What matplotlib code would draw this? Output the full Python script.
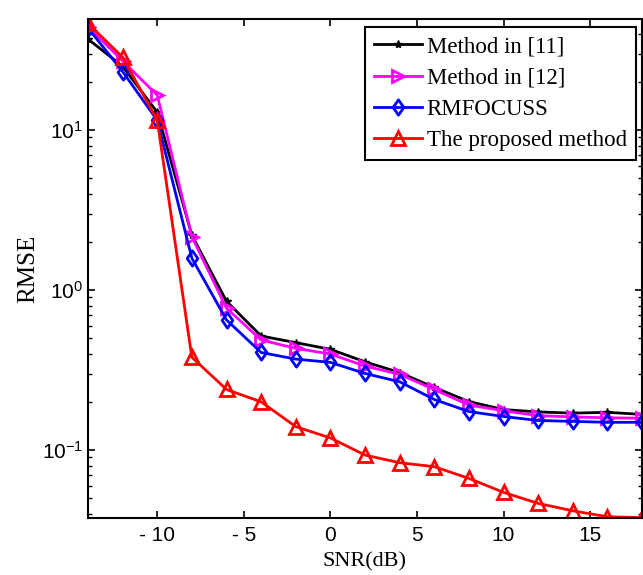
import matplotlib
matplotlib.use("Agg")
import matplotlib.pyplot as plt
from matplotlib.ticker import LogLocator, NullFormatter
from matplotlib.path import Path

snr = [-14, -12, -10, -8, -6, -4, -2, 0, 2, 4, 6, 8, 10, 12, 14, 16, 18]
m11 = [37.0, 25.0, 12.9, 2.2, 0.85, 0.516, 0.469, 0.426, 0.356, 0.305, 0.246, 0.201, 0.179, 0.173, 0.170, 0.172, 0.167]
m12 = [44.3, 27.0, 16.5, 2.15, 0.77, 0.487, 0.432, 0.398, 0.335, 0.297, 0.239, 0.191, 0.176, 0.164, 0.161, 0.159, 0.158]
rmf = [43.4, 23.2, 11.5, 1.58, 0.65, 0.407, 0.370, 0.353, 0.301, 0.267, 0.207, 0.174, 0.162, 0.153, 0.151, 0.149, 0.149]
prop = [46.4, 28.5, 11.5, 0.38, 0.239, 0.200, 0.140, 0.119, 0.093, 0.0833, 0.0787, 0.0665, 0.0544, 0.0464, 0.0417, 0.0383, 0.0378]

labels = ["Method in [11]", "Method in [12]", "RMFOCUSS", "The proposed method"]
xticks = [-10, -5, 0, 5, 10, 15]
xticklabels = ["- 10", "- 5", "0", "5", "10", "15"]

plt.rcParams['mathtext.fontset'] = 'custom'
plt.rcParams['mathtext.rm'] = 'Liberation Sans'
plt.rcParams['mathtext.it'] = 'Liberation Sans'
plt.rcParams['font.family'] = 'Liberation Sans'

diamond = Path([(0, 1), (0.7, 0), (0, -1), (-0.7, 0), (0, 1)],
               [Path.MOVETO, Path.LINETO, Path.LINETO, Path.LINETO, Path.CLOSEPOLY])

fig = plt.figure(figsize=(6.43, 5.75), dpi=100)
ax = fig.add_axes([88/643, 1-518/575, (642-88)/643, (518-19)/575])

lw = 2.0
ax.plot(snr, m11, color='black', marker='*', markersize=6, lw=lw, label=labels[0])
ax.plot(snr, m12, color='#ff00ff', marker='>', markersize=9, mfc='none', mew=2, lw=lw, label=labels[1])
ax.plot(snr, rmf, color='#0000ff', marker=diamond, markersize=11, mfc='none', mew=2, lw=lw, label=labels[2])
ax.plot(snr, prop, color='#ff0000', marker='^', markersize=10, mfc='none', mew=2, lw=lw, label=labels[3])

ax.set_yscale('log')
ax.set_xlim(-14, 18)
ax.set_ylim(0.0376, 49.4)
ax.set_xticks(xticks)
ax.set_xticklabels(xticklabels, fontsize=15)
ax.yaxis.set_major_locator(LogLocator(base=10, numticks=10))
ax.yaxis.set_minor_locator(LogLocator(base=10, subs=range(2, 10), numticks=20))
ax.yaxis.set_minor_formatter(NullFormatter())
ax.tick_params(axis='both', which='both', direction='in', top=True, right=True)
ax.tick_params(axis='both', which='major', length=5, width=1.2, labelsize=15)
ax.tick_params(axis='x', which='major', pad=6)
ax.tick_params(axis='y', which='minor', length=3, width=1.0)
for s in ax.spines.values():
    s.set_linewidth(1.5)

ax.set_xlabel("SNR(dB)", fontsize=16, family='Liberation Serif', labelpad=5)
ax.set_ylabel("RMSE", fontsize=18, family='Liberation Serif', labelpad=2)

leg = ax.legend(loc='upper right', bbox_to_anchor=(636/643, 1-27/575), bbox_transform=fig.transFigure,
                borderaxespad=0, fancybox=False, framealpha=1, edgecolor='black',
                prop={'family': 'Liberation Serif', 'size': 16.5}, handlelength=2.1,
                handletextpad=0.2, labelspacing=0.45, borderpad=0.4)
leg.get_frame().set_linewidth(1.5)

fig.savefig("out.png", dpi=100)
